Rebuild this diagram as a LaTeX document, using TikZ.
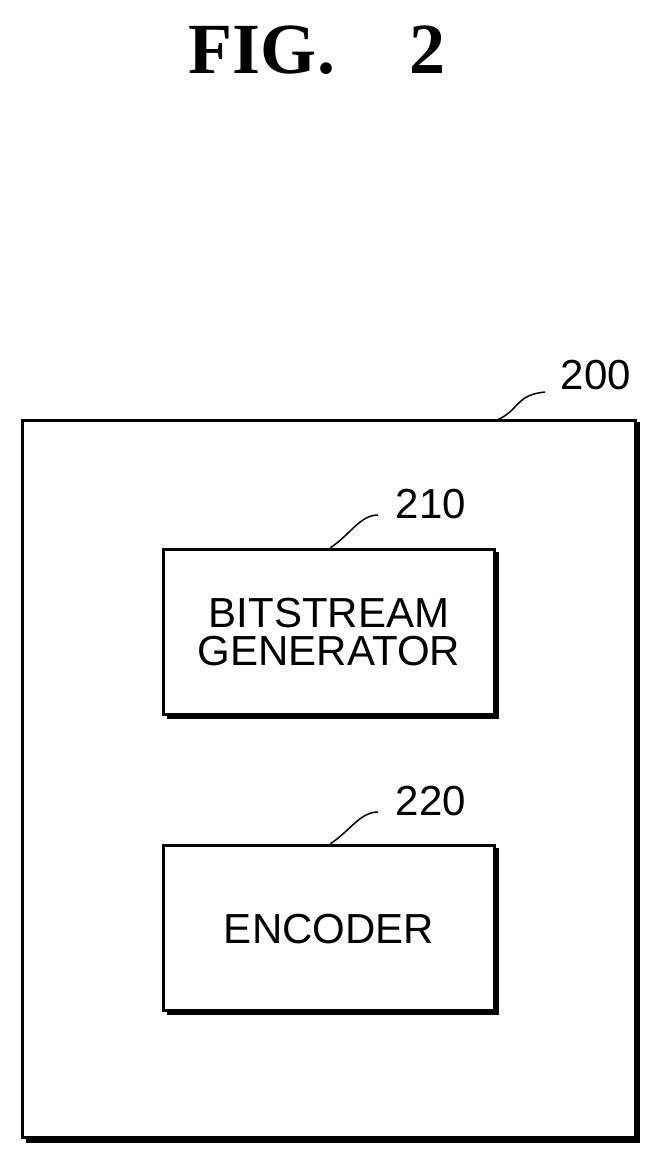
\documentclass[tikz,border=0pt]{standalone}
\usepackage{fontspec}
\setmainfont{Liberation Sans}
\newfontfamily\serifbf{Liberation Serif}
\begin{document}
\begin{tikzpicture}[x=1pt,y=-1pt,
  box/.style={draw,line width=3pt},
  lbl/.style={font=\fontsize{42}{44}\selectfont,inner sep=0pt},
  lead/.style={line width=1.5pt}]
\useasboundingbox (0,0) rectangle (662,1160);
\node[inner sep=0pt,font=\serifbf\bfseries\fontsize{72}{74}\selectfont] (t1) at (262,50) {FIG.};
\node[inner sep=0pt,font=\serifbf\bfseries\fontsize{72}{74}\selectfont] (t2) at (427,50) {2};
% outer
\draw[line width=6pt] (26,1140) -- (637,1140) -- (637,422);
\draw[box] (22,420) rectangle (635,1137);
\draw[line width=6pt] (167,716) -- (496,716) -- (496,552);
\draw[box] (163,549) rectangle (494,714);
\node[lbl,align=center] (b1) at (329,632) {BITSTREAM\\[-6pt]GENERATOR};
\draw[line width=6pt] (167,1012) -- (496,1012) -- (496,848);
\draw[box] (163,845) rectangle (494,1010);
\node[lbl] (b2) at (329,929) {ENCODER};
\node[lbl] (l200) at (596,375) {200};
\node[lbl] (l210) at (431,504) {210};
\node[lbl] (l220) at (431,801) {220};
\coordinate (a0) at (497,420); \coordinate (a1) at (545,392);
\coordinate (c0) at (330,548); \coordinate (c1) at (378,515);
\coordinate (d0) at (330,844); \coordinate (d1) at (378,812);
\draw[lead] (a0) .. controls (520,410) and (515,395) .. (a1);
\draw[lead] (c0) .. controls (350,535) and (360,515) .. (c1);
\draw[lead] (d0) .. controls (350,831) and (360,812) .. (d1);
\end{tikzpicture}
\end{document}
